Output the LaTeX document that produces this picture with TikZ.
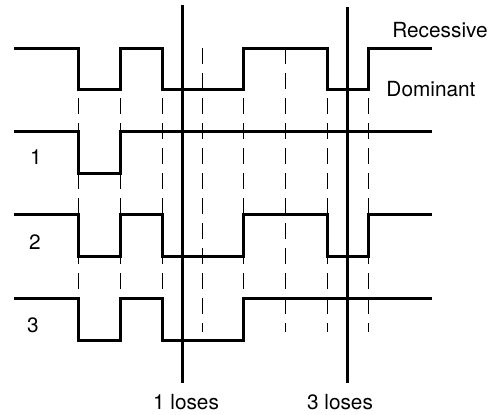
\documentclass[tikz,border=0pt]{standalone}
\usepackage{fontspec}
\setmainfont{TeX Gyre Heros}
\usepackage{tikz}
\tikzset{
  sig/.style={draw=black,line width=1.5pt,line join=miter},
  grid/.style={draw=black,line width=0.5pt,dash pattern=on 8pt off 4.5pt},
  loses/.style={draw=black,line width=1.5pt},
  lab/.style={font=\fontsize{10.4}{12}\selectfont,inner sep=0pt},
}

\begin{document}
\begin{tikzpicture}[x=0.5pt,y=-0.5pt]
  \useasboundingbox (0,0) rectangle (494,414);
  % bit boundaries
  \draw[grid] (78,48) -- (78,332);
  \draw[grid] (120,48) -- (120,332);
  \draw[grid] (162,48) -- (162,332);
  \draw[grid] (202,48) -- (202,332);
  \draw[grid] (243,48) -- (243,332);
  \draw[grid] (285,48) -- (285,332);
  \draw[grid] (327,48) -- (327,332);
  \draw[grid] (368,48) -- (368,332);
  % bus
  \draw[sig] (14,48) -- (78,48) -- (78,89) -- (120,89) -- (120,48) -- (162,48) -- (162,89)
    -- (243,89) -- (243,48) -- (327,48) -- (327,89) -- (368,89) -- (368,48) -- (432,48);
  % node 1
  \draw[sig] (14,131) -- (78,131) -- (78,173) -- (120,173) -- (120,131) -- (432,131);
  % node 2
  \draw[sig] (14,214) -- (78,214) -- (78,256) -- (120,256) -- (120,214) -- (162,214) -- (162,256)
    -- (243,256) -- (243,214) -- (327,214) -- (327,256) -- (368,256) -- (368,214) -- (432,214);
  % node 3
  \draw[sig] (14,298) -- (78,298) -- (78,340) -- (120,340) -- (120,298) -- (162,298) -- (162,340)
    -- (243,340) -- (243,298) -- (432,298);
  \node[lab] (rec) at (440,30) {Recessive};
  \node[lab] (dom) at (431,89) {Dominant};
  \node[lab] (n1) at (36,157) {1};
  \node[lab] (n2) at (35,242) {2};
  \node[lab] (n3) at (33,325) {3};
  % arbitration losses
  \node[lab] (lose1) at (186,402) {1 loses};
  \node[lab] (lose3) at (340,402) {3 loses};
  \coordinate (top1) at (182,5);
  \coordinate (top3) at (347,7);
  \draw[loses] (top1) -- (182,383);
  \draw[loses] (top3) -- (347,383);
\end{tikzpicture}
\end{document}
